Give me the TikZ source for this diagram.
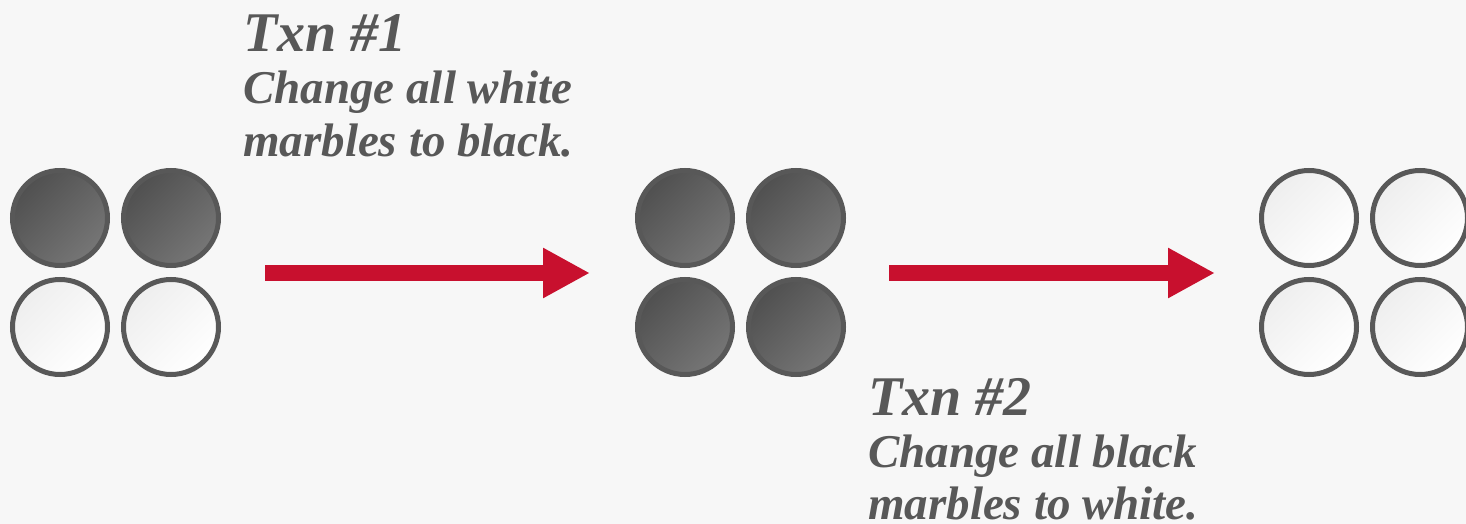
\documentclass[tikz,border=0pt]{standalone}
\usepackage{fontspec}
\setmainfont{Liberation Serif}
\usetikzlibrary{positioning, arrows.meta}
\definecolor{bg}{HTML}{F7F7F7}
\definecolor{ink}{HTML}{585858}
\definecolor{darktop}{HTML}{505050}
\definecolor{darkbot}{HTML}{767676}
\definecolor{lighttop}{HTML}{EEEEEE}
\definecolor{txnred}{HTML}{C8102E}

\begin{document}
\begin{tikzpicture}[
    x=1pt, y=-1pt,
    node distance = 14pt and 16pt,
    marble/.style = {circle, draw=ink, line width=5pt, minimum size=95pt,
                     inner sep=0pt, outer sep=0pt},
    darkmarble/.style = {marble, top color=darktop, bottom color=darkbot,
                         shading angle=45},
    lightmarble/.style = {marble, top color=lighttop, bottom color=white,
                          shading angle=45},
    arrow/.style = {-{Triangle[length=47pt, width=47pt]}, line width=16pt,
                    draw=txnred},
    title/.style = {font=\fontsize{56}{60}\selectfont\bfseries\itshape,
                    text=ink, inner sep=0pt},
    caption/.style = {font=\fontsize{47}{52}\selectfont\bfseries\itshape,
                      text=ink, inner sep=0pt, align=left}
]
\fill[bg] (0,0) rectangle (1466,524);
\useasboundingbox (0,0) rectangle (1466,524);

% before
\node[darkmarble] (a1) at (60,218) {};
\node[darkmarble, right=of a1] (a2) {};
\node[lightmarble, below=of a1] (a3) {};
\node[lightmarble, right=of a3] (a4) {};

% after txn 1
\node[darkmarble] (b1) at (685,218) {};
\node[darkmarble, right=of b1] (b2) {};
\node[darkmarble, below=of b1] (b3) {};
\node[darkmarble, right=of b3] (b4) {};

% after txn 2
\node[lightmarble] (c1) at (1309,218) {};
\node[lightmarble, right=of c1] (c2) {};
\node[lightmarble, below=of c1] (c3) {};
\node[lightmarble, right=of c3] (c4) {};

\coordinate (s1) at (265,273);
\coordinate (e1) at (590,273);
\coordinate (s2) at (889,273);
\coordinate (e2) at (1215,273);
\draw[arrow] (s1) -- (e1);
\draw[arrow] (s2) -- (e2);

% base of a two-line caption is its last line
\node[title, anchor=base west] (t1) at (243,52) {Txn \#1};
\node[caption, anchor=base west] (d1) at (243,156) {Change all white\\marbles to black.};
\node[title, anchor=base west] (t2) at (868,415) {Txn \#2};
\node[caption, anchor=base west] (d2) at (868,519) {Change all black\\marbles to white.};

\end{tikzpicture}
\end{document}
